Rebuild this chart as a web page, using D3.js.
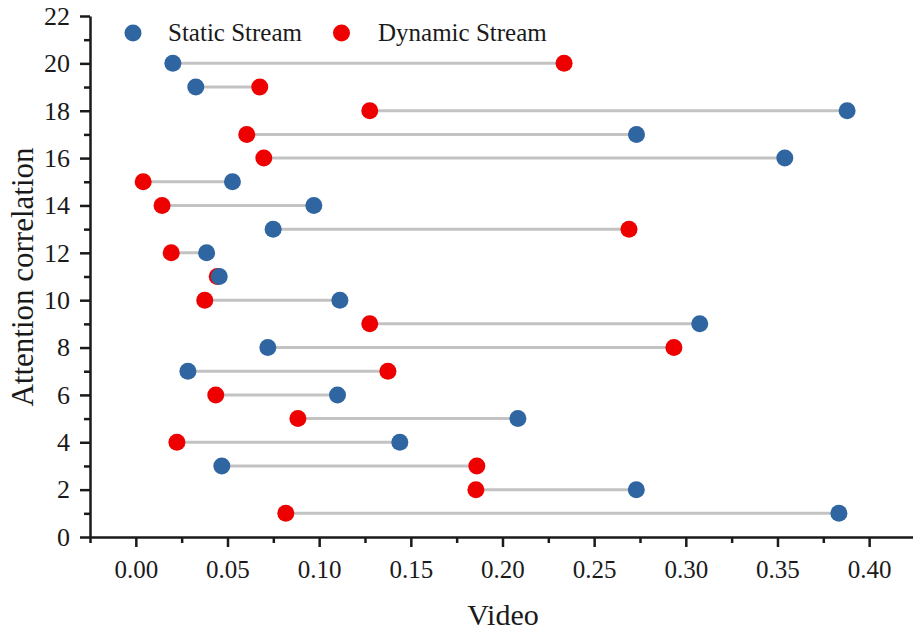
<!DOCTYPE html>
<html>
<head>
<meta charset="utf-8">
<script src="https://cdn.jsdelivr.net/npm/d3@7"></script>
<style>
  body { margin: 0; background: #fff; }
  svg { display: block; }
  text { font-family: "Liberation Serif", "Times New Roman", serif; fill: #1a1a1a; }
</style>
</head>
<body>
<svg id="chart" width="913" height="635"></svg>
<script>
// row index on the y axis
var rows = [1, 2, 3, 4, 5, 6, 7, 8, 9, 10, 11, 12, 13, 14, 15, 16, 17, 18, 19, 20];
// Static Stream values (blue)
var staticVals = [0.3835, 0.273, 0.0469, 0.144, 0.2084, 0.110, 0.0284, 0.072, 0.3076, 0.1113,
                  0.0455, 0.0386, 0.0749, 0.0971, 0.0527, 0.354, 0.2731, 0.388, 0.0327, 0.0202];
// Dynamic Stream values (red)
var dynamicVals = [0.0818, 0.1855, 0.186, 0.0224, 0.0884, 0.0436, 0.1375, 0.2935, 0.1276, 0.0376,
                   0.0444, 0.0193, 0.269, 0.0143, 0.004, 0.0698, 0.0605, 0.1276, 0.0676, 0.2336];
var seriesNames = ['Static Stream', 'Dynamic Stream'];
var xTickValues = [0, 0.05, 0.10, 0.15, 0.20, 0.25, 0.30, 0.35, 0.40];
var yTickValues = [0, 2, 4, 6, 8, 10, 12, 14, 16, 18, 20, 22];

var blue = '#2f65a0';
var red = '#ee0000';
var serif = '"Liberation Serif", "Times New Roman", serif';

var svg = d3.select('#chart');

var x = d3.scaleLinear()
          .domain([-0.025, 0.45])
          .range([90, 960.8]);
var y = d3.scaleLinear()
          .domain([0, 22])
          .range([537, 16]);

var data = rows.map(function(r, i) {
  return { row: r, s: staticVals[i], d: dynamicVals[i] };
});

// minor ticks
var xMinor = [-0.025, 0.025, 0.075, 0.125, 0.175, 0.225, 0.275, 0.325, 0.375, 0.425];
var yMinor = [1, 3, 5, 7, 9, 11, 13, 15, 17, 19, 21];

svg.append('g')
   .attr('transform', 'translate(0,' + y(0) + ')')
   .call(d3.axisBottom(x).tickValues(xMinor).tickSize(6).tickSizeOuter(0).tickFormat(''))
   .call(g => g.select('.domain').remove())
   .call(g => g.selectAll('.tick line').attr('stroke-width', 2.5).attr('stroke', '#1a1a1a'));

svg.append('g')
   .attr('transform', 'translate(' + x(-0.025) + ',0)')
   .call(d3.axisLeft(y).tickValues(yMinor).tickSize(6).tickSizeOuter(0).tickFormat(''))
   .call(g => g.select('.domain').remove())
   .call(g => g.selectAll('.tick line').attr('stroke-width', 2.5).attr('stroke', '#1a1a1a'));

// major axes
svg.append('g')
   .attr('transform', 'translate(0,' + y(0) + ')')
   .call(d3.axisBottom(x)
           .tickValues(xTickValues)
           .tickSize(10)
           .tickSizeOuter(0)
           .tickPadding(13)
           .tickFormat(d3.format('.2f')))
   .call(g => g.select('.domain').attr('stroke-width', 2.5).attr('stroke', '#1a1a1a'))
   .call(g => g.selectAll('.tick line').attr('stroke-width', 2.5).attr('stroke', '#1a1a1a'))
   .call(g => g.selectAll('.tick text')
               .style('font-size', '25px')
               .style('font-family', serif)
               .attr('fill', '#1a1a1a'));

svg.append('g')
   .attr('transform', 'translate(' + x(-0.025) + ',0)')
   .call(d3.axisLeft(y)
           .tickValues(yTickValues)
           .tickSize(10)
           .tickSizeOuter(0)
           .tickPadding(10))
   .call(g => g.select('.domain').attr('stroke-width', 2.5).attr('stroke', '#1a1a1a'))
   .call(g => g.selectAll('.tick line').attr('stroke-width', 2.5).attr('stroke', '#1a1a1a'))
   .call(g => g.selectAll('.tick text')
               .style('font-size', '26px')
               .style('font-family', serif)
               .attr('fill', '#1a1a1a'));

// connecting lines
svg.append('g')
   .selectAll('line')
   .data(data)
   .enter()
   .append('line')
   .attr('x1', d => x(d.s))
   .attr('x2', d => x(d.d))
   .attr('y1', d => y(d.row))
   .attr('y2', d => y(d.row))
   .attr('stroke', '#c3c3c3')
   .attr('stroke-width', 3);

// dynamic dots, then static on top
svg.append('g')
   .selectAll('circle')
   .data(data)
   .enter()
   .append('circle')
   .attr('cx', d => x(d.d))
   .attr('cy', d => y(d.row))
   .attr('r', 8.5)
   .attr('fill', red);

svg.append('g')
   .selectAll('circle')
   .data(data)
   .enter()
   .append('circle')
   .attr('cx', d => x(d.s))
   .attr('cy', d => y(d.row))
   .attr('r', 8.5)
   .attr('fill', blue);

// legend
var legend = svg.append('g');
var legendItems = [
  { name: seriesNames[0], color: blue, cx: 133, tx: 168 },
  { name: seriesNames[1], color: red, cx: 341.5, tx: 378 }
];
legendItems.forEach(function(it) {
  legend.append('circle')
        .attr('cx', it.cx)
        .attr('cy', 33)
        .attr('r', 8.5)
        .attr('fill', it.color);
  legend.append('text')
        .attr('x', it.tx)
        .attr('y', 41)
        .style('font-family', serif)
        .style('font-size', '25px')
        .text(it.name);
});

// axis titles
svg.append('text')
   .attr('x', 503)
   .attr('y', 625)
   .attr('text-anchor', 'middle')
   .style('font-family', serif)
   .style('font-size', '30px')
   .text('Video');

svg.append('text')
   .attr('transform', 'translate(33,277) rotate(-90)')
   .attr('text-anchor', 'middle')
   .style('font-family', serif)
   .style('font-size', '31px')
   .text('Attention correlation');
</script>
</body>
</html>
